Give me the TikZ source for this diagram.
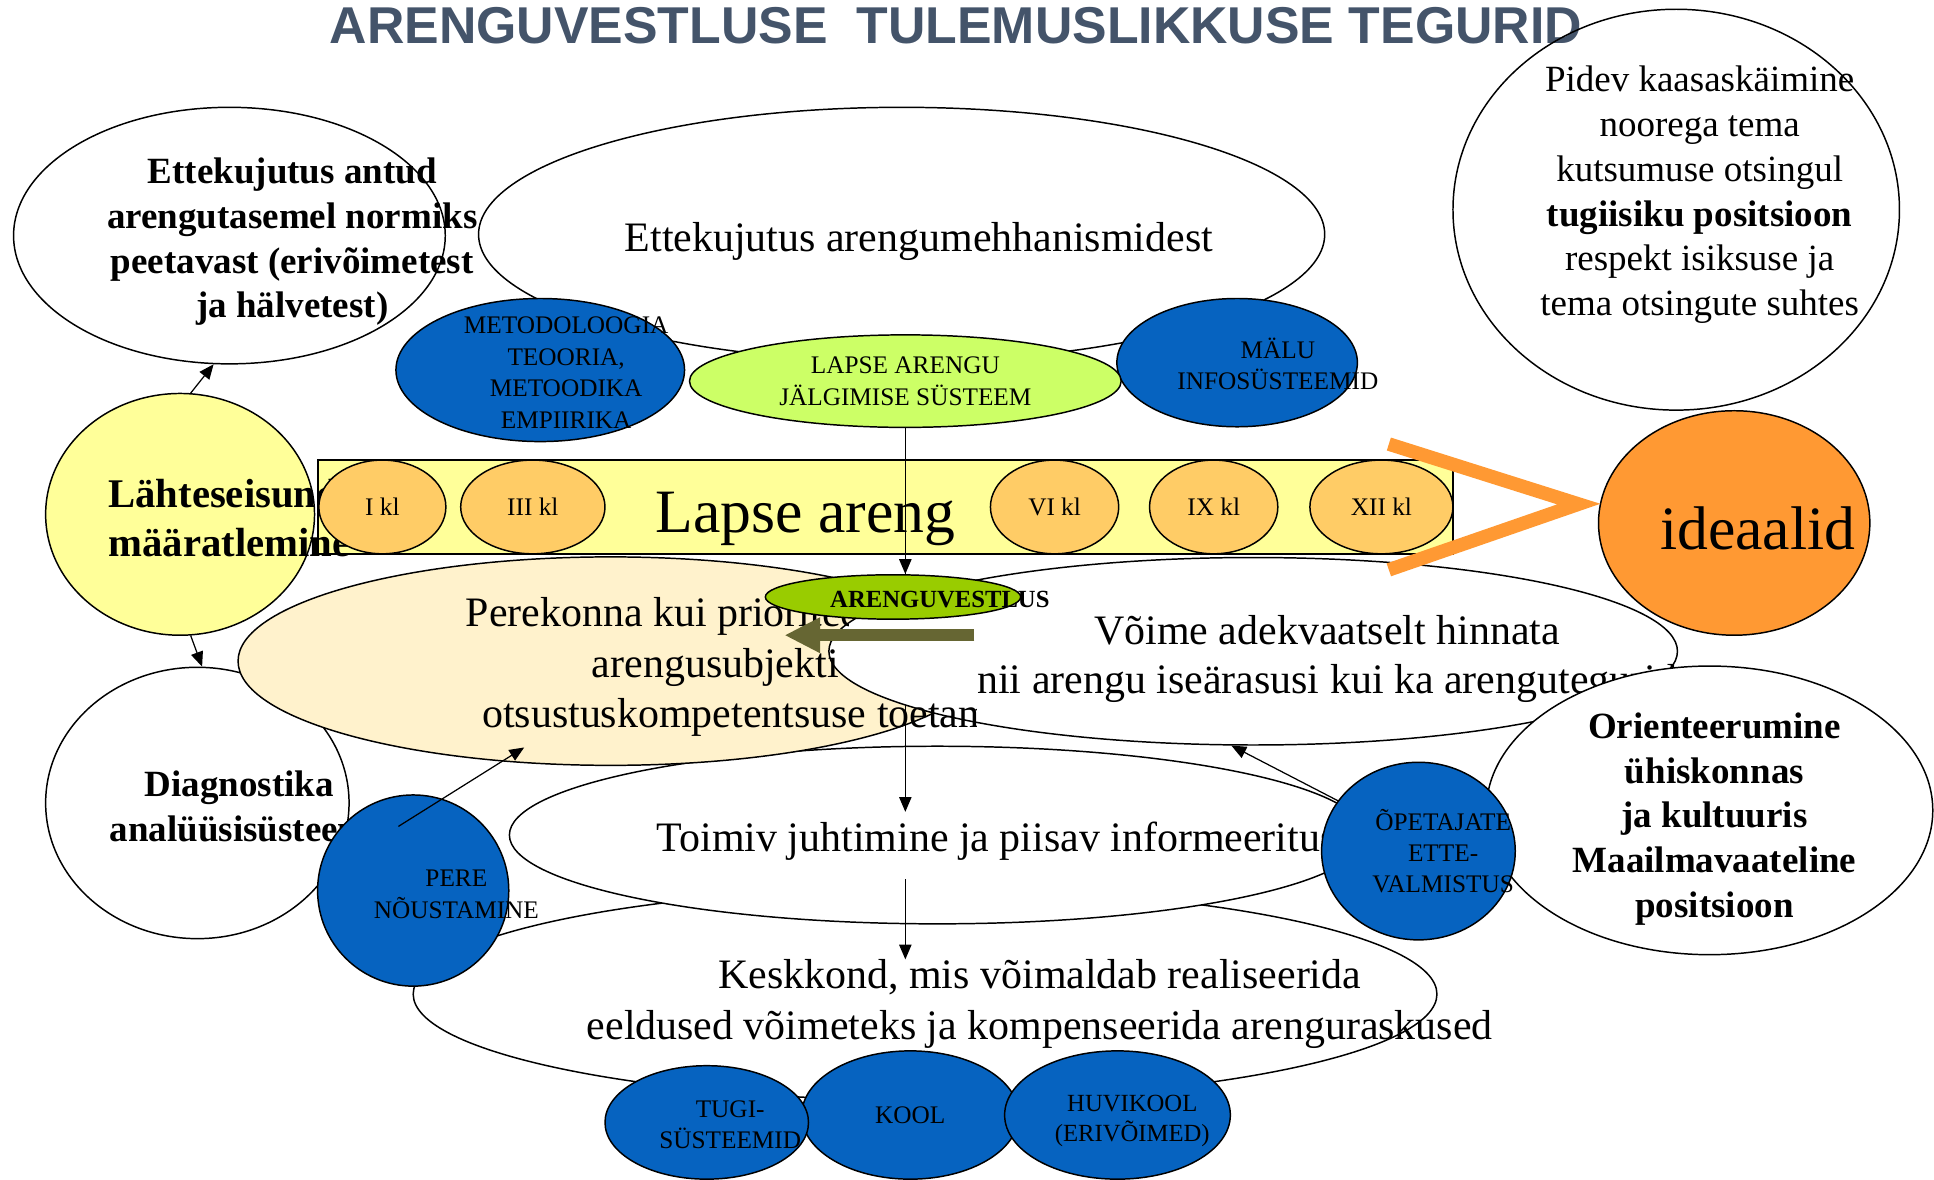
\documentclass[tikz,border=0pt]{standalone}
\usepackage{fontspec}
\setmainfont{Liberation Serif}
\newfontfamily\titlefont{Liberation Sans}
\usetikzlibrary{
  shapes.geometric,
  calc,
  arrows.meta}
\definecolor{titlecolor}{RGB}{68,84,106}
\definecolor{startcolor}{RGB}{255,255,153}
\definecolor{gradecolor}{RGB}{255,204,102}
\definecolor{idealcolor}{RGB}{255,153,51}
\definecolor{supportcolor}{RGB}{6,99,192}
\definecolor{monitorcolor}{RGB}{204,255,102}
\definecolor{talkcolor}{RGB}{153,204,0}
\definecolor{familycolor}{RGB}{255,242,204}
\definecolor{olivecolor}{RGB}{102,102,51}
\tikzset{
  %% bubble : outlined ellipse, size is given per node
  bubble/.style={
    ellipse,
    draw=black,
    line width=1.2pt,
    inner sep=0pt
  },
  %% whitebubble : ellipse that hides what lies behind it
  whitebubble/.style={
    bubble,
    fill=white
  },
  %% bluebubble : a supporting system
  bluebubble/.style={
    bubble,
    fill=supportcolor
  },
  %% gradebubble : school grade on the development bar
  gradebubble/.style={
    bubble,
    fill=gradecolor,
    minimum height=76pt,
    font=\fontsize{20.5}{25.5}\selectfont
  },
  %% texts
  titletext/.style={
    inner sep=0pt,
    text=titlecolor,
    font=\titlefont\bfseries\fontsize{42}{50}\selectfont
  },
  hugetext/.style={
    inner sep=0pt,
    font=\fontsize{50}{60}\selectfont
  },
  bigtext/.style={
    inner sep=0pt,
    align=center,
    font=\fontsize{34}{41}\selectfont
  },
  mediumtext/.style={
    inner sep=0pt,
    align=center,
    font=\fontsize{30}{36.3}\selectfont
  },
  boldtext/.style={
    inner sep=0pt,
    align=center,
    font=\bfseries\fontsize{30}{36.3}\selectfont
  },
  smalltext/.style={
    inner sep=0pt,
    align=center,
    font=\fontsize{20.5}{25.5}\selectfont
  },
  %% link : thin arrow between bubbles
  link/.style={
    -{Triangle[length=12pt,width=10pt]},
    line width=1pt
  },
  %% bigarrow : the olive arrow pointing to the family
  bigarrow/.style={
    -{Triangle[length=29pt,width=27pt]},
    line width=9.5pt,
    olivecolor
  },
  %% chevron : orange sign in front of the ideals
  chevron/.style={idealcolor, line width=11pt, line join=miter}
}

\begin{document}
\begin{tikzpicture}[x=1pt, y=-1pt]
  \useasboundingbox (0,0) rectangle (1568,956);

  %% Title
  \node (title) [titletext, anchor=base] at (775,35) {%
    ARENGUVESTLUSE\hspace{0.56em}TULEMUSLIKKUSE TEGURID};

  %% Upper row
  \node (norm) [bubble, minimum width=350pt, minimum height=208pt] at (186,191) {};
  \node (mech) [bubble, minimum width=686pt, minimum height=206pt] at (731,190) {};
  \node (normtext) [boldtext] at (237,196) {%
    Ettekujutus antud\\
    arengutasemel normiks\\
    peetavast (erivõimetest\\
    ja hälvetest)};
  \node (mechtext) [bigtext] at (745,196) {Ettekujutus arengumehhanismidest};

  \node (companion) [bubble, minimum width=362pt, minimum height=325pt] at (1359,170) {};
  \node (companiontext) [mediumtext] at (1378,158) {%
    Pidev kaasaskäimine\\
    noorega tema\\
    kutsumuse otsingul\\
    \textbf{tugiisiku positsioon}\\
    respekt isiksuse ja\\
    tema otsingute suhtes};

  \node (method) [bluebubble, minimum width=234pt, minimum height=116pt] at (438,300) {};
  \node (methodtext) [smalltext] at (459,302) {%
    METODOLOOGIA\\
    TEOORIA,\\
    METOODIKA\\
    EMPIIRIKA};
  \node (memory) [bluebubble, minimum width=195pt, minimum height=104pt] at (1003,294) {};
  \node (memorytext) [smalltext] at (1036,295) {%
    MÄLU\\
    INFOSÜSTEEMID};
  \node (monitor) [bubble, smalltext, fill=monitorcolor, minimum width=350pt,
    minimum height=75pt] at (734,309) {%
    LAPSE ARENGU\\
    JÄLGIMISE SÜSTEEM};

  %% Development bar
  \node (bar) [rectangle, draw=black, line width=1.2pt, fill=startcolor, inner sep=0pt,
    minimum width=920pt, minimum height=76pt] at (718,411) {};
  \node (start) [bubble, fill=startcolor, minimum width=218pt, minimum height=196pt] at (146,417) {};
  \node (starttext) [boldtext, font=\bfseries\fontsize{33}{40}\selectfont] at (186,420) {%
    Lähteseisundi\\
    määratlemine};
  \node (bartext) [hugetext] at (653,421) {Lapse areng};
  \node (grade1) [gradebubble, minimum width=103pt] at (310,411) {I kl};
  \node (grade3) [gradebubble, minimum width=117pt] at (432,411) {III kl};
  \node (grade6) [gradebubble, minimum width=104pt] at (855,411) {VI kl};
  \node (grade9) [gradebubble, minimum width=104pt] at (984,411) {IX kl};
  \node (grade12) [gradebubble, minimum width=116pt] at (1120,411) {XII kl};

  %% Lower part
  \node (env) [whitebubble, minimum width=830pt, minimum height=172pt] at (750,806) {};
  \node (lead) [whitebubble, minimum width=694pt, minimum height=144pt] at (760,677) {};
  \node (leadtext) [bigtext] at (808,682) {Toimiv juhtimine ja piisav informeeritus};
  \node (diag) [whitebubble, minimum width=246pt, minimum height=220pt] at (160,651) {};
  \node (diagtext) [boldtext] at (194,654) {%
    Diagnostika\\
    analüüsisüsteem};
  \node (family) [bubble, fill=familycolor, minimum width=604pt, minimum height=169pt] at (495,536) {};

  % flow line running under the assessment bubble
  \draw [link, shorten >=8pt] (monitor.south) -- (leadtext.north -| monitor.south);

  \node (able) [whitebubble, minimum width=688pt, minimum height=152pt] at (1016,528) {};
  \node (abletext) [bigtext, font=\fontsize{34}{40}\selectfont] at (1076,534) {%
    Võime adekvaatselt hinnata\\
    nii arengu iseärasusi kui ka arengutegurid};

  % family text lies over the assessment bubble, cut at its frame
  \begin{scope}
    \clip (190,440) -- (688,440) -- (688,560) -- (792,560) -- (792,620) -- (190,620) -- cycle;
    \node (familytext) [bigtext] at (580,541) {%
      Perekonna kui prioriteetse\hspace*{48pt}\\
      arengusubjekti\hspace*{10pt}\\
      \hspace*{76pt}otsustuskompetentsuse toetamine};
  \end{scope}

  \node (talk) [bubble, fill=talkcolor, minimum width=207pt, minimum height=36pt] at (724,484) {};
  \node (talktext) [smalltext, font=\bfseries\fontsize{20}{24}\selectfont] at (762,486) {ARENGUVESTLUS};
  \draw [link] (monitor.south) -- (monitor.south |- talk.north);

  \coordinate (arrowstart) at (790,515);
  \coordinate (arrowend) at (636,515);
  \draw [bigarrow] (arrowstart) -- (arrowend);

  \node (world) [whitebubble, minimum width=362pt, minimum height=234pt] at (1386,657) {};
  \node (worldtext) [boldtext] at (1390,664) {%
    Orienteerumine\\
    ühiskonnas\\
    ja kultuuris\\
    Maailmavaateline\\
    positsioon};

  \node (teacher) [bluebubble, minimum width=157pt, minimum height=144pt] at (1150,690) {};
  \node (teachertext) [smalltext] at (1170,690) {%
    ÕPETAJATE\\
    ETTE-\\
    VALMISTUS};
  \draw [link] (teacher.148) -- (able.257);

  \node (counsel) [bluebubble, minimum width=155pt, minimum height=155pt] at (335,722) {};
  \node (counseltext) [smalltext] at (370,725) {%
    PERE\\
    NÕUSTAMINE};
  \draw [link] ([shift={(-12,-52)}]counsel.center) -- ([shift={(-70,70)}]family.center);

  %% Bottom row
  \node (school) [bluebubble, smalltext, minimum width=176pt, minimum height=104pt] at (738,904) {KOOL};
  \node (help) [bluebubble, minimum width=165pt, minimum height=92pt] at (573,910) {};
  \node (helptext) [smalltext] at (592,912) {%
    TUGI-\\
    SÜSTEEMID};
  \node (hobby) [bluebubble, minimum width=183pt, minimum height=104pt] at (906,904) {};
  \node (hobbytext) [smalltext, font=\fontsize{20}{24}\selectfont] at (918,909) {%
    HUVIKOOL\\
    (ERIVÕIMED)};

  \node (envtext) [bigtext] at (843,814) {%
    Keskkond, mis võimaldab realiseerida\\
    eeldused võimeteks ja kompenseerida arenguraskused};
  \draw [link, shorten <=15pt] (leadtext.south -| monitor.south) -- (envtext.north -| monitor.south);

  %% Ideals
  \node (ideal) [bubble, fill=idealcolor, minimum width=220pt, minimum height=182pt] at (1406,424) {};
  \node (idealtext) [hugetext] at (1425,428) {ideaalid};
  \coordinate (chevtop) at (1126,360);
  \coordinate (chevbottom) at (1126,462);
  \draw [chevron] (chevtop) -- ([xshift=-17pt]ideal.172) -- (chevbottom);

  %% Starting point links
  \draw [link] (start.85) -- (norm.263);
  \draw [link] (start.275) -- (diag.88);

\end{tikzpicture}
\end{document}
